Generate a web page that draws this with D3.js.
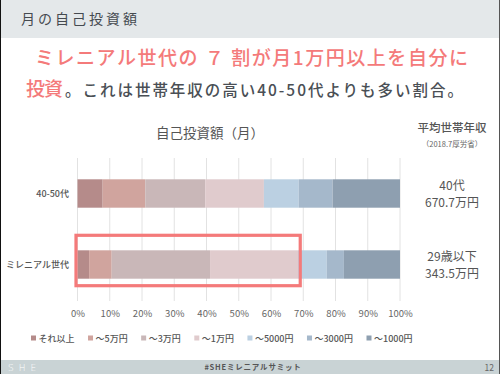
<!DOCTYPE html>
<html><head><meta charset="utf-8">
<script src="https://cdn.jsdelivr.net/npm/d3@7"></script>
<style>
html,body{margin:0;padding:0;background:#fff;}
svg{display:block;font-family:"Noto Sans CJK JP","Noto Sans",sans-serif;}
</style></head>
<body>
<svg id="c" width="500" height="374"></svg>
<script>
// ---- data ----
const categories = ["40-50代", "ミレニアル世代"];
const seriesNames = ["それ以上", "〜5万円", "〜3万円", "〜1万円", "〜5000円", "〜3000円", "〜1000円"];
const values4050 = [7.8, 13.2, 18.6, 18.2, 10.8, 10.5, 20.9];
const valuesMillennial = [3.6, 7.0, 30.5, 27.3, 8.9, 5.3, 17.4];
const tickValues = [0, 10, 20, 30, 40, 50, 60, 70, 80, 90, 100];
const incomeGroups = ["40代", "29歳以下"];
const incomeValues = ["670.7万円", "343.5万円"];
const highlightShare = 68.6;
const colors = ["#b58b8a", "#d0a49e", "#c9b7b8", "#e0cbcd", "#bbd0e2", "#a5b8cb", "#8e9fb0"];

const svg = d3.select("#c");
const RED = "#f47a7a";

// header band
svg.append("rect").attr("x",0).attr("y",0).attr("width",500).attr("height",38).attr("fill","#e4e8ea");
svg.append("text").attr("x",21).attr("y",24).attr("font-size",14).attr("letter-spacing",3)
  .attr("fill","#454a50").text("月の自己投資額");

// headline
svg.append("text").attr("x",35).attr("y",65).attr("font-size",19).attr("font-weight",500)
  .attr("fill",RED).attr("textLength",433).attr("lengthAdjust","spacing")
  .text("ミレニアル世代の ７ 割が月1万円以上を自分に");
svg.append("text").attr("x",26).attr("y",96).attr("font-size",19).attr("font-weight",500)
  .attr("fill",RED).attr("textLength",37).attr("lengthAdjust","spacing").text("投資");
svg.append("text").attr("x",65).attr("y",96).attr("font-size",15.5).attr("font-weight",500)
  .attr("fill","#4a4f55").attr("textLength",398).attr("lengthAdjust","spacing")
  .text("。これは世帯年収の高い40-50代よりも多い割合。");

// footer band
svg.append("rect").attr("x",0).attr("y",360).attr("width",500).attr("height",14).attr("fill","#c9d3d5");
svg.append("text").attr("x",8).attr("y",370.5).attr("font-size",9).attr("letter-spacing",5)
  .attr("fill","#ffffff").attr("font-family","DejaVu Sans, sans-serif").attr("font-weight",300).text("SHE");
svg.append("text").attr("x",253).attr("y",370).attr("font-size",7.5).attr("font-weight",700)
  .attr("text-anchor","middle").attr("letter-spacing",0.8).attr("fill","#555").text("#SHEミレニアルサミット");
svg.append("text").attr("x",494).attr("y",370.5).attr("font-size",8.5).attr("text-anchor","end")
  .attr("fill","#666").text("12");

// scales
const x = d3.scaleLinear().domain([0,100]).range([77.5,400]);
const y = d3.scaleBand().domain(categories).range([158,300]).paddingInner(0.6).paddingOuter(0.3);

// gridlines
svg.append("g").selectAll("line").data(tickValues).join("line")
  .attr("x1",d=>x(d)).attr("x2",d=>x(d)).attr("y1",158).attr("y2",301)
  .attr("stroke","#e2e2e2").attr("stroke-width",1);

// chart title
svg.append("text").attr("x",210).attr("y",138).attr("font-size",13.5).attr("text-anchor","middle")
  .attr("fill","#555").attr("font-weight",400).text("自己投資額（月）");

// stacked bars
const table = categories.map((c,i)=>{
  const row = {cat:c};
  const vals = i===0 ? values4050 : valuesMillennial;
  seriesNames.forEach((s,j)=>row[s]=vals[j]);
  return row;
});
const stacked = d3.stack().keys(seriesNames)(table);
svg.append("g").selectAll("g").data(stacked).join("g")
  .attr("fill",(d,i)=>colors[i])
  .selectAll("rect").data(d=>d).join("rect")
  .attr("x",d=>x(d[0])).attr("width",d=>x(d[1])-x(d[0]))
  .attr("y",d=>y(d.data.cat)).attr("height",y.bandwidth());

// category labels
svg.append("g").selectAll("text").data(categories).join("text")
  .attr("x",69).attr("y",d=>y(d)+y.bandwidth()/2+3.5).attr("text-anchor","end")
  .attr("font-size",9).attr("font-weight",500).attr("fill","#555").text(d=>d);

// x axis
const axis = svg.append("g").attr("transform","translate(0,301)")
  .call(d3.axisBottom(x).tickValues(tickValues).tickSize(0).tickPadding(9).tickFormat(d=>d+"%"));
axis.select(".domain").remove();
axis.selectAll("text").attr("font-size",9.5).attr("fill","#666")
  .attr("font-family","\"Noto Sans CJK JP\",\"Noto Sans\",sans-serif");

// highlight rectangle
const m = categories[1];
svg.append("rect").attr("x",x(0)-1.5).attr("y",y(m)-15)
  .attr("width",x(highlightShare)-x(0)+3).attr("height",y.bandwidth()+22)
  .attr("fill","none").attr("stroke",RED).attr("stroke-width",3.2);

// right column
svg.append("text").attr("x",452).attr("y",132).attr("font-size",11.5).attr("font-weight",500)
  .attr("text-anchor","middle").attr("fill","#555").text("平均世帯年収");
svg.append("text").attr("x",452).attr("y",147).attr("font-size",7.5)
  .attr("text-anchor","middle").attr("fill","#666").text("（2018.7厚労省）");
categories.forEach((c,i)=>{
  const cy = y(c)+y.bandwidth()/2;
  svg.append("text").attr("x",452).attr("y",cy-4).attr("font-size",12).attr("font-weight",400)
    .attr("text-anchor","middle").attr("fill","#555").text(incomeGroups[i]);
  svg.append("text").attr("x",452).attr("y",cy+13).attr("font-size",12).attr("font-weight",400)
    .attr("text-anchor","middle").attr("fill","#555").text(incomeValues[i]);
});

// legend
const lg = svg.append("g");
let lx = 31;
seriesNames.forEach((s,i)=>{
  lg.append("rect").attr("x",lx).attr("y",335.5).attr("width",5).attr("height",5).attr("fill",colors[i]);
  const t = lg.append("text").attr("x",lx+7.5).attr("y",341.5).attr("font-size",9).attr("font-weight",500)
    .attr("fill","#555").text(s);
  lx += 7.5 + t.node().getComputedTextLength() + 13.5;
});

// page border
svg.append("line").attr("x1",0.5).attr("x2",0.5).attr("y1",0).attr("y2",374).attr("stroke","#111").attr("stroke-width",1);
svg.append("line").attr("x1",499.5).attr("x2",499.5).attr("y1",0).attr("y2",374).attr("stroke","#555").attr("stroke-width",1);
</script>
</body></html>
